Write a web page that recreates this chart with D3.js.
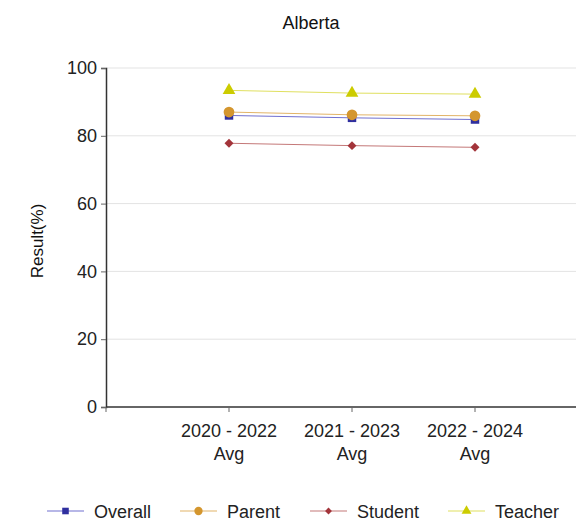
<!DOCTYPE html>
<html>
<head>
<meta charset="utf-8">
<script src="https://cdn.jsdelivr.net/npm/d3@7"></script>
<style>
  body { margin: 0; background: #fff; }
  svg { display: block; font-family: "Liberation Sans", Arial, sans-serif; }
</style>
</head>
<body>
<svg id="chart" width="576" height="524"></svg>
<script>
// Three-year rolling averages, Alberta
const categories = ["2020 - 2022|Avg", "2021 - 2023|Avg", "2022 - 2024|Avg"];
const seriesNames = ["Overall", "Parent", "Student", "Teacher"];
const overall = [86.0, 85.3, 84.8];
const parent  = [87.0, 86.2, 85.9];
const student = [77.8, 77.1, 76.6];
const teacher = [93.4, 92.6, 92.3];
const yTicks = [0, 20, 40, 60, 80, 100];

// marker shape, size and rotation per series (Student uses a square turned 45°)
const styles = {
  Overall: { marker: "#2f2f9f", line: "#7070d0", shape: d3.symbolSquare, size: 72, rot: 0 },
  Parent:  { marker: "#d4962e", line: "#e2b468", shape: d3.symbolCircle, size: 90, rot: 0 },
  Student: { marker: "#a3343a", line: "#c47878", shape: d3.symbolSquare, size: 40, rot: 45 },
  Teacher: { marker: "#cccc00", line: "#e0e060", shape: d3.symbolTriangle, size: 70, rot: 0 }
};
const values = { Overall: overall, Parent: parent, Student: student, Teacher: teacher };

(function draw() {
  const svg = d3.select("#chart");
  const mLeft = 106, mRight = 576, mTop = 68, mBottom = 407;
  const fs = 18;

  const x = d3.scalePoint().domain(d3.range(-1, 4)).range([mLeft, mLeft + 4 * 123]);
  const y = d3.scaleLinear().domain([0, 100]).range([mBottom, mTop]);

  // title
  svg.append("text").attr("x", 311).attr("y", 29).attr("text-anchor", "middle")
    .attr("font-size", fs).attr("fill", "#111").text("Alberta");

  // gridlines
  svg.append("g").selectAll("line").data(yTicks.filter(d => d > 0)).join("line")
    .attr("x1", mLeft).attr("x2", mRight)
    .attr("y1", d => y(d)).attr("y2", d => y(d))
    .attr("stroke", "#e3e3e3").attr("stroke-width", 1);

  // y axis
  const yAxis = svg.append("g").attr("transform", `translate(${mLeft},0)`)
    .call(d3.axisLeft(y).tickValues(yTicks).tickSize(5).tickPadding(4));
  yAxis.select(".domain").attr("stroke", "#333").attr("stroke-width", 1.5);
  yAxis.selectAll(".tick line").attr("stroke", "#666");
  yAxis.selectAll("text").attr("font-size", fs).attr("fill", "#222")
    .attr("font-family", "Liberation Sans, Arial, sans-serif");

  // x axis
  const xAxis = svg.append("g").attr("transform", `translate(0,${mBottom})`);
  xAxis.append("line").attr("x1", mLeft).attr("x2", mRight).attr("y1", 0).attr("y2", 0)
    .attr("stroke", "#333").attr("stroke-width", 1.5);
  const xt = xAxis.selectAll("g.tick").data(d3.range(0, 3)).join("g").attr("class", "tick")
    .attr("transform", i => `translate(${x(i)},0)`);
  xt.append("line").attr("y2", 5).attr("stroke", "#666");
  xt.each(function(i) {
    const parts = categories[i].split("|");
    const t = d3.select(this).append("text").attr("text-anchor", "middle")
      .attr("font-size", fs).attr("fill", "#222");
    parts.forEach((p, k) => t.append("tspan").attr("x", 0).attr("y", 30 + k * 23).text(p));
  });
  // tick at left end of the category axis
  xAxis.append("line").attr("x1", mLeft).attr("x2", mLeft).attr("y2", 5).attr("stroke", "#666");

  // y title
  svg.append("text").attr("transform", `translate(43,241) rotate(-90)`)
    .attr("text-anchor", "middle").attr("font-size", 17).attr("fill", "#111").text("Result(%)");

  // series
  const line = d3.line().x((d, i) => x(i)).y(d => y(d));
  seriesNames.forEach(name => {
    const c = styles[name];
    svg.append("path").datum(values[name]).attr("d", line)
      .attr("fill", "none").attr("stroke", c.line).attr("stroke-width", 1);
  });
  seriesNames.forEach(name => {
    const c = styles[name];
    svg.append("g").selectAll("path").data(values[name]).join("path")
      .attr("transform", (d, i) => `translate(${x(i)},${y(d)}) rotate(${c.rot})`)
      .attr("d", d3.symbol().type(c.shape).size(c.size))
      .attr("fill", c.marker);
  });

  // legend
  const legendX = [47, 180, 310, 448];
  const lg = svg.append("g").attr("transform", "translate(0,511)");
  seriesNames.forEach((name, k) => {
    const c = styles[name];
    const g = lg.append("g").attr("transform", `translate(${legendX[k]},0)`);
    g.append("line").attr("x1", 0).attr("x2", 37).attr("stroke", c.line).attr("stroke-width", 1.2);
    g.append("path").attr("transform", `translate(18.5,0) rotate(${c.rot})`)
      .attr("d", d3.symbol().type(c.shape).size(c.size * 0.6)).attr("fill", c.marker);
    g.append("text").attr("x", 47).attr("y", 7).attr("font-size", fs).attr("fill", "#222").text(name);
  });
})();
</script>
</body>
</html>
